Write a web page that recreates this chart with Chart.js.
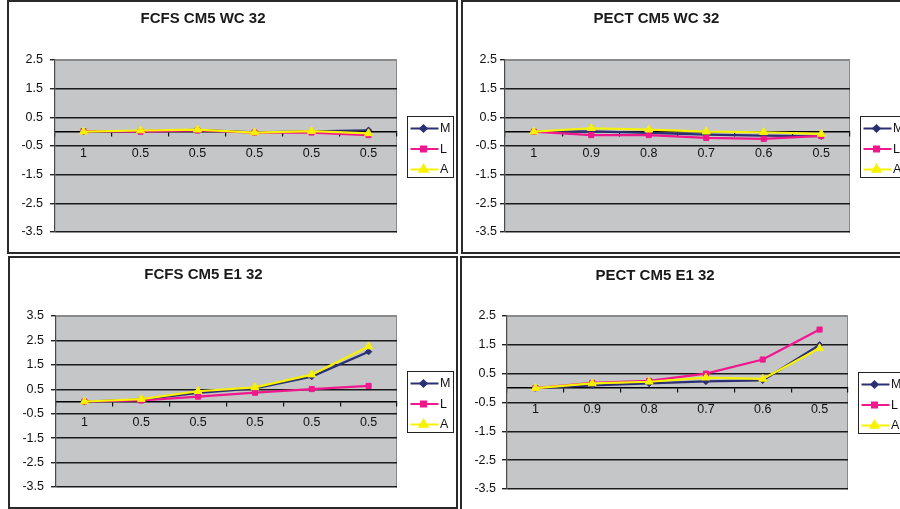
<!DOCTYPE html>
<html>
<head>
<meta charset="utf-8">
<script src="https://cdn.jsdelivr.net/npm/chart.js@4.4.1/dist/chart.umd.min.js"></script>
<style>
  html, body { margin: 0; padding: 0; background: #fff; width: 900px; height: 509px; overflow: hidden; }
  .panel { position: absolute; box-sizing: border-box; border: 2px solid #2a2a2a; background: #fff; overflow: hidden; }
  .panel canvas { display: block; }
</style>
</head>
<body>
<div class="panel" style="left:7px;top:0;width:451px;height:254px"><canvas id="fcfsWc" width="447" height="250"></canvas></div>
<div class="panel" style="left:461px;top:0;width:452px;height:254px"><canvas id="pectWc" width="448" height="250"></canvas></div>
<div class="panel" style="left:8px;top:256px;width:450px;height:253px"><canvas id="fcfsE1" width="446" height="249"></canvas></div>
<div class="panel" style="left:460px;top:256px;width:452px;height:256px"><canvas id="pectE1" width="448" height="252"></canvas></div>
<script>
// Series and axis data
const seriesNames = ['M', 'L', 'A'];
const fcfsCategories = ['1', '0.5', '0.5', '0.5', '0.5', '0.5'];
const pectCategories = ['1', '0.9', '0.8', '0.7', '0.6', '0.5'];
const yTicksShort = [2.5, 1.5, 0.5, -0.5, -1.5, -2.5, -3.5];
const yTicksTall = [3.5, 2.5, 1.5, 0.5, -0.5, -1.5, -2.5, -3.5];

// FCFS CM5 WC 32
const fcfsWcM = [0, 0.02, 0.06, -0.02, 0.01, 0.05];
const fcfsWcL = [0.02, 0.0, 0.04, -0.03, -0.03, -0.12];
const fcfsWcA = [0, 0.04, 0.07, -0.03, 0.02, -0.06];

// PECT CM5 WC 32
const pectWcM = [0, 0.01, -0.04, -0.1, -0.14, -0.16];
const pectWcL = [0, -0.12, -0.12, -0.22, -0.25, -0.15];
const pectWcA = [0, 0.12, 0.07, 0.0, -0.02, -0.08];

// FCFS CM5 E1 32
const fcfsE1M = [0, 0.08, 0.35, 0.54, 1.02, 2.04];
const fcfsE1L = [0, 0.04, 0.2, 0.36, 0.51, 0.64];
const fcfsE1A = [0, 0.1, 0.42, 0.58, 1.1, 2.25];

// PECT CM5 E1 32
const pectE1M = [0, 0.09, 0.16, 0.23, 0.27, 1.5];
const pectE1L = [0, 0.18, 0.25, 0.5, 0.99, 2.03];
const pectE1A = [0, 0.16, 0.22, 0.36, 0.32, 1.38];

// Look of each series (navy diamond, magenta square, yellow triangle)
const seriesStyles = [
  { color: '#2c2f72', pointStyle: 'rectRot', radius: 3.2, order: 3 },
  { color: '#f0188c', pointStyle: 'rect', radius: 3.6, order: 2 },
  { color: '#f7f200', pointStyle: 'triangle', radius: 4.6, order: 1 }
];

Chart.defaults.font.family = '"Liberation Sans", Arial, sans-serif';
Chart.defaults.color = '#111';

const TITLE_SIZE = 15;
const TICK_SIZE = 12.5;

// Grey plot background with a light frame on top and right
const plotBackground = {
  id: 'plotBackground',
  beforeDraw(chart) {
    const { ctx, chartArea: a } = chart;
    ctx.save();
    ctx.fillStyle = '#c5c6c8';
    ctx.fillRect(a.left, a.top, a.right - a.left, a.bottom - a.top);
    ctx.strokeStyle = '#8a8a8a';
    ctx.lineWidth = 1;
    ctx.beginPath();
    ctx.moveTo(Math.round(a.left) + 0.5, Math.round(a.top) + 0.5);
    ctx.lineTo(Math.round(a.right) - 0.5, Math.round(a.top) + 0.5);
    ctx.lineTo(Math.round(a.right) - 0.5, Math.round(a.bottom) + 0.5);
    ctx.stroke();
    ctx.restore();
  }
};

// Boxed legend to the right of the plot: line with marker, then name
const boxedLegend = {
  id: 'boxedLegend',
  afterDraw(chart) {
    const { ctx, chartArea: a } = chart;
    const boxW = 46, boxH = 61, rowGap = 20.5;
    const x0 = Math.round(a.right + 10) + 0.5;
    const y0 = Math.round((a.top + a.bottom) / 2 - boxH / 2) + 0.5;
    ctx.save();
    ctx.fillStyle = '#fff';
    ctx.fillRect(x0, y0, boxW, boxH);
    ctx.strokeStyle = '#222';
    ctx.lineWidth = 1;
    ctx.strokeRect(x0, y0, boxW, boxH);
    chart.data.datasets.forEach((ds, i) => {
      const y = y0 + 12 + i * rowGap;
      ctx.strokeStyle = ds.borderColor;
      ctx.lineWidth = 2;
      ctx.beginPath();
      ctx.moveTo(x0 + 3, y);
      ctx.lineTo(x0 + 31, y);
      ctx.stroke();
      ctx.fillStyle = ds.pointBackgroundColor;
      ctx.strokeStyle = ds.pointBorderColor;
      Chart.helpers.drawPoint(ctx, {
        pointStyle: ds.pointStyle, radius: ds.pointRadius, rotation: 0, borderWidth: 1
      }, x0 + 16, y);
      ctx.fillStyle = '#111';
      ctx.font = TICK_SIZE + 'px "Liberation Sans", Arial, sans-serif';
      ctx.textAlign = 'left';
      ctx.textBaseline = 'middle';
      ctx.fillText(ds.label, x0 + 32.5, y + 0.5);
    });
    ctx.restore();
  }
};

function makeChart(id, title, categories, values, yTicks, area, titleCenter) {
  const canvas = document.getElementById(id);
  const W = canvas.width, H = canvas.height;
  const lh = TITLE_SIZE * 1.2;
  const padTop = titleCenter - lh / 2;
  const yMax = Math.max(...yTicks), yMin = Math.min(...yTicks);
  return new Chart(canvas, {
    type: 'line',
    data: {
      labels: categories,
      datasets: values.map((v, i) => ({
        label: seriesNames[i],
        data: v,
        order: seriesStyles[i].order,
        borderColor: seriesStyles[i].color,
        backgroundColor: seriesStyles[i].color,
        pointBackgroundColor: seriesStyles[i].color,
        pointBorderColor: seriesStyles[i].color,
        pointStyle: seriesStyles[i].pointStyle,
        pointRadius: seriesStyles[i].radius,
        pointBorderWidth: 1,
        borderWidth: 2.2,
        tension: 0,
        fill: false
      }))
    },
    options: {
      responsive: false,
      animation: false,
      events: [],
      layout: { padding: { left: 0, top: 0, right: W - area.right, bottom: H - area.bottom } },
      plugins: {
        legend: { display: false },
        tooltip: { enabled: false },
        title: {
          display: true,
          text: title,
          color: '#1a1a1a',
          font: { size: TITLE_SIZE, weight: 'bold', lineHeight: 1.2 },
          padding: { top: padTop, bottom: area.top - padTop - lh }
        }
      },
      scales: {
        x: {
          type: 'category',
          offset: true,
          position: { y: 0 },
          grid: { offset: true, drawOnChartArea: false, drawTicks: true, tickLength: 4, color: '#111', lineWidth: 1.2 },
          border: { display: true, color: '#000', width: 1.6 },
          ticks: { padding: 10, autoSkip: false, maxRotation: 0, font: { size: TICK_SIZE }, color: '#111' }
        },
        y: {
          min: yMin,
          max: yMax,
          afterBuildTicks(scale) { scale.ticks = yTicks.map(v => ({ value: v })); },
          afterFit(scale) { scale.width = area.left; },
          grid: {
            color: ctx => (ctx.tick && ctx.tick.value === yMax) ? '#8a8a8a' : '#1a1a1a',
            tickColor: '#222',
            tickLength: 5,
            lineWidth: 1.4
          },
          border: { display: true, color: '#4a4a4a', width: 1.2 },
          ticks: {
            padding: area.left - 5 - 34,
            font: { size: TICK_SIZE },
            color: '#111',
            callback: v => String(v)
          }
        }
      }
    },
    plugins: [plotBackground, boxedLegend]
  });
}

makeChart('fcfsWc', 'FCFS CM5 WC 32', fcfsCategories, [fcfsWcM, fcfsWcL, fcfsWcA], yTicksShort,
  { left: 46, right: 388, top: 58, bottom: 230 }, 17);
makeChart('pectWc', 'PECT CM5 WC 32', pectCategories, [pectWcM, pectWcL, pectWcA], yTicksShort,
  { left: 42, right: 387, top: 58, bottom: 230 }, 17);
makeChart('fcfsE1', 'FCFS CM5 E1 32', fcfsCategories, [fcfsE1M, fcfsE1L, fcfsE1A], yTicksTall,
  { left: 46, right: 387, top: 58, bottom: 229 }, 17.3);
makeChart('pectE1', 'PECT CM5 E1 32', pectCategories, [pectE1M, pectE1L, pectE1A], yTicksShort,
  { left: 45, right: 386, top: 58, bottom: 231 }, 18);
</script>
</body>
</html>
